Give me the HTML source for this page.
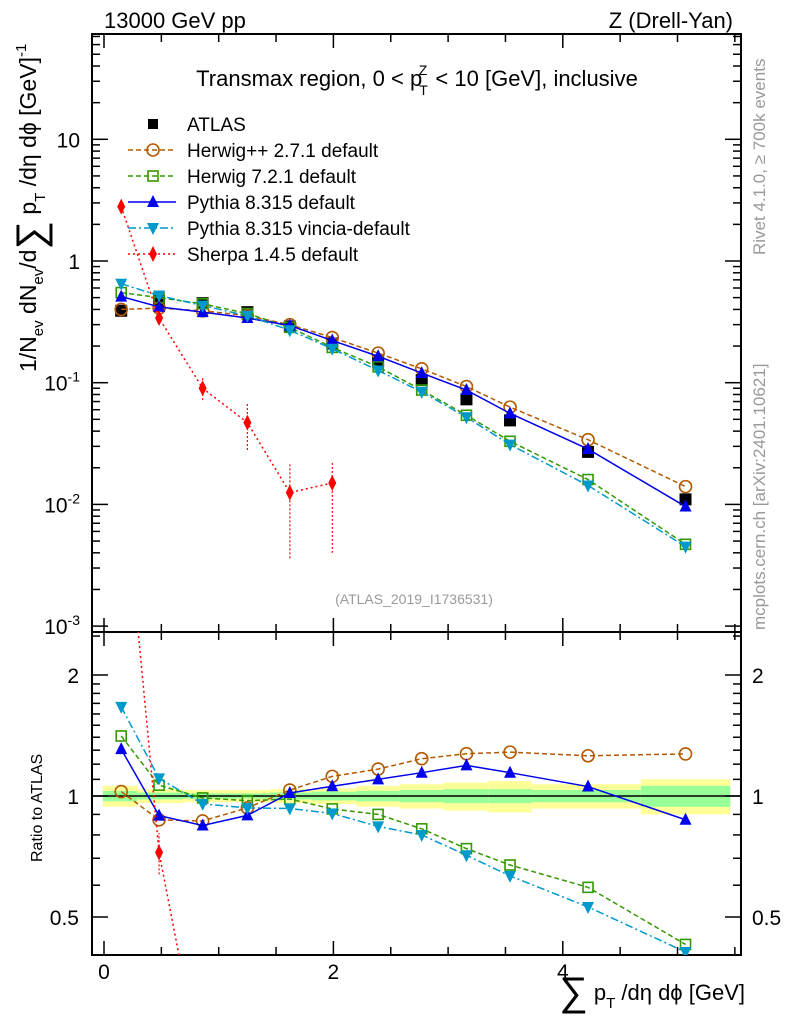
<!DOCTYPE html>
<html><head><meta charset="utf-8"><style>
body{margin:0;background:#fff;overflow:hidden;}
svg{display:block;font-family:"Liberation Sans",sans-serif;}
</style></head><body>
<svg id="c" width="786" height="1024" xmlns="http://www.w3.org/2000/svg">
<g id="bands"></g>
<g id="grid"></g>
<g id="series"></g>
<text x="104" y="28" font-size="22">13000 GeV pp</text>
<text x="733" y="28" font-size="22" text-anchor="end">Z (Drell-Yan)</text>
<text x="417" y="86" font-size="22" text-anchor="middle">Transmax region, 0 &lt; p<tspan font-size="14" dy="9" dx="-3">T</tspan><tspan font-size="14" dy="-20" dx="-9">Z</tspan><tspan dy="11" dx="2"> &lt; 10 [GeV], inclusive</tspan></text>
<text x="414" y="604" font-size="14" fill="#999" text-anchor="middle">(ATLAS_2019_I1736531)</text>
<text transform="translate(765,255) rotate(-90)" font-size="17" fill="#999">Rivet 4.1.0, ≥ 700k events</text>
<text transform="translate(765,630) rotate(-90)" font-size="17" fill="#999">mcplots.cern.ch [arXiv:2401.10621]</text>
<text transform="translate(36,372) rotate(-90)" font-size="23">1/N<tspan font-size="15" dy="7">ev</tspan><tspan dy="-7"> dN</tspan><tspan font-size="15" dy="7">ev</tspan><tspan dy="-7">/d</tspan><tspan font-size="40" dy="8">∑</tspan><tspan dy="-8"> p</tspan><tspan font-size="15" dy="9">T</tspan><tspan dy="-9"> /dη dϕ  [GeV]</tspan><tspan font-size="15" dy="-10">-1</tspan></text>
<text transform="translate(42,862) rotate(-90)" font-size="16">Ratio to ATLAS</text>
<text x="745" y="1000" font-size="22" text-anchor="end"><tspan font-size="40" dy="5">∑</tspan><tspan dy="-5"> p</tspan><tspan font-size="15" dy="8">T</tspan><tspan dy="-8"> /dη dϕ [GeV]</tspan></text>
<g id="legend"></g>
</svg>
<script>
const xs=[0.15,0.48,0.86,1.25,1.62,1.99,2.39,2.77,3.16,3.54,4.22,5.07];
const atlas=[0.39,0.47,0.45,0.38,0.29,0.21,0.15,0.105,0.073,0.049,0.027,0.011];
const herwigpp=[0.40,0.41,0.39,0.355,0.30,0.235,0.175,0.13,0.093,0.063,0.034,0.014];
const herwig7=[0.55,0.50,0.445,0.37,0.285,0.195,0.135,0.087,0.054,0.033,0.016,0.0047];
const pythia=[0.51,0.42,0.38,0.34,0.295,0.222,0.165,0.12,0.087,0.056,0.0285,0.0096];
const vincia=[0.65,0.52,0.43,0.355,0.27,0.19,0.126,0.084,0.052,0.031,0.0143,0.0045];
const sherpaX=[0.15,0.48,0.86,1.25,1.62,1.99];
const sherpa=[2.8,0.34,0.09,0.047,0.0125,0.015];
const sherpaLo=[2.8,0.30,0.072,0.028,0.0036,0.004];
const sherpaHi=[2.8,0.38,0.11,0.068,0.022,0.022];
const binEdges=[-0.01,0.29,0.68,1.05,1.44,1.81,2.2,2.58,2.96,3.35,3.73,4.68,5.46];
const totErr=[0.06,0.04,0.035,0.035,0.04,0.045,0.06,0.07,0.08,0.09,0.07,0.10];
const statErr=[0.03,0.02,0.015,0.015,0.02,0.025,0.03,0.035,0.04,0.04,0.035,0.06];
const xTicks=[0,2,4];
const yTicksMain=[10,1,0.1,0.01,0.001];
const yTickLabelsMain=["10","1","10^-1","10^-2","10^-3"];
const rTicks=[2,1,0.5];

const L=92,R=741,T=34,MB=632,RB=955;
const X=v=>104+v*114.7;
const Y=v=>261-121.7*Math.log10(v);
const YR=v=>796-121*Math.log2(v);
const NS="http://www.w3.org/2000/svg";
function mk(tag,at,parent){const e=document.createElementNS(NS,tag);for(const k in at)e.setAttribute(k,at[k]);parent.appendChild(e);return e;}
const bands=document.getElementById('bands'),grid=document.getElementById('grid'),ser=document.getElementById('series'),leg=document.getElementById('legend');

for(let i=0;i<xs.length;i++){
 const x0=X(binEdges[i]),x1=X(binEdges[i+1]);
 const y=mk('rect',{x:x0,y:YR(1+totErr[i]),width:x1-x0,height:YR(1-totErr[i])-YR(1+totErr[i]),fill:'#ffff99'},bands);
 
 
 const g=mk('rect',{x:x0,y:YR(1+statErr[i]),width:x1-x0,height:YR(1-statErr[i])-YR(1+statErr[i]),fill:'#99ff99'},bands);
 
 
}
mk('rect',{x:L,y:T,width:R-L,height:MB-T,fill:'none',stroke:'#000','stroke-width':2},grid);
mk('rect',{x:L,y:MB,width:R-L,height:RB-MB,fill:'none',stroke:'#000','stroke-width':2},grid);
mk('line',{x1:L,x2:R,y1:YR(1),y2:YR(1),stroke:'#000','stroke-width':1.5},grid);
for(let v=0;v<=5.5;v+=0.5){const x=X(v);const maj=Math.abs(v%2)<1e-6;const len=maj?14:8;
 for(const [y0,d] of [[MB,1],[RB,-1],[T,1],[MB,-1]]) mk('line',{x1:x,x2:x,y1:y0,y2:y0+d*len,stroke:'#000','stroke-width':1.5},grid);}
xTicks.forEach(v=>{const t=mk('text',{x:X(v),y:979,'font-size':21,'text-anchor':'middle'},grid);t.textContent=v;
 
 });
for(let e=-3;e<=1;e++){for(let m=1;m<=9;m++){const v=m*Math.pow(10,e);const y=Y(v);if(y<T||y>MB)continue;const len=m==1?16:8;
 mk('line',{x1:L,x2:L+len,y1:y,y2:y,stroke:'#000','stroke-width':1.5},grid);mk('line',{x1:R,x2:R-len,y1:y,y2:y,stroke:'#000','stroke-width':1.5},grid);}}
yTicksMain.forEach((v,i)=>{const t=mk('text',{x:80,y:Y(v)+8,'font-size':21,'text-anchor':'end'},grid);const lab=yTickLabelsMain[i];
 if(lab.includes('^')){const p=lab.split('^');t.textContent=p[0];const s=mk('tspan',{'font-size':14,dy:-9},t);s.textContent=p[1];}else t.textContent=lab;
 
 });
[0.4,0.5,0.6,0.7,0.8,0.9,1,1.1,1.2,1.3,1.4,1.5,1.6,1.7,1.8,1.9,2,2.5].forEach(v=>{const y=YR(v);if(y<MB||y>RB)return;const len=(v==0.5||v==1||v==2)?16:8;
 mk('line',{x1:L,x2:L+len,y1:y,y2:y,stroke:'#000','stroke-width':1.5},grid);mk('line',{x1:R,x2:R-len,y1:y,y2:y,stroke:'#000','stroke-width':1.5},grid);});
rTicks.forEach(v=>{for(const [x,a] of [[79,'end'],[752,'start']]){const t=mk('text',{x:x,y:YR(v)+8,'font-size':21,'text-anchor':a},grid);t.textContent=v;
 
 }});

const defs=mk('defs',{},ser);
const c1=mk('clipPath',{id:'cm'},defs);mk('rect',{x:L,y:T,width:R-L,height:MB-T},c1);
const c2=mk('clipPath',{id:'cr'},defs);mk('rect',{x:L,y:MB,width:R-L,height:RB-MB},c2);

function marker(g,type,x,y,col,s){
 if(type=='sq') return mk('rect',{x:x-s,y:y-s,width:2*s,height:2*s,fill:col},g);
 if(type=='osq') return mk('rect',{x:x-s+1,y:y-s+1,width:2*s-2,height:2*s-2,fill:'none',stroke:col,'stroke-width':1.6},g);
 if(type=='oc') return mk('circle',{cx:x,cy:y,r:s,fill:'none',stroke:col,'stroke-width':1.6},g);
 if(type=='tu') return mk('polygon',{points:`${x},${y-s-1} ${x-s},${y+s-1} ${x+s},${y+s-1}`,fill:col},g);
 if(type=='td') return mk('polygon',{points:`${x},${y+s+1} ${x-s},${y-s+1} ${x+s},${y-s+1}`,fill:col},g);
 if(type=='di') return mk('polygon',{points:`${x},${y-s-2} ${x-s+2},${y} ${x},${y+s+2} ${x+s-2},${y}`,fill:col},g);
}
const defsS=[
 {name:'herwigpp',lab:'Herwig++ 2.7.1 default',d:herwigpp,col:'#b35900',dash:'5,3',m:'oc'},
 {name:'herwig7',lab:'Herwig 7.2.1 default',d:herwig7,col:'#339900',dash:'5,3',m:'osq'},
 {name:'pythia',lab:'Pythia 8.315 default',d:pythia,col:'#0000ee',dash:'',m:'tu'},
 {name:'vincia',lab:'Pythia 8.315 vincia-default',d:vincia,col:'#0099cc',dash:'8,3,2,3',m:'td'},
];
const ga=mk('g',{'clip-path':'url(#cm)'},ser);


atlas.forEach((v,i)=>{const p=marker(ga,'sq',X(xs[i]),Y(v),'#000',6);
 
 });
defsS.forEach(s=>{
 const g=mk('g',{'clip-path':'url(#cm)'},ser);
 
 
 mk('polyline',{points:s.d.map((v,i)=>X(xs[i])+','+Y(v)).join(' '),fill:'none',stroke:s.col,'stroke-width':1.5,'stroke-dasharray':s.dash},g);
 s.d.forEach((v,i)=>{const p=marker(g,s.m,X(xs[i]),Y(v),s.col,6);
  
  });
 const gr=mk('g',{'clip-path':'url(#cr)'},ser);
 
 
 mk('polyline',{points:s.d.map((v,i)=>X(xs[i])+','+YR(v/atlas[i])).join(' '),fill:'none',stroke:s.col,'stroke-width':1.5,'stroke-dasharray':s.dash},gr);
 s.d.forEach((v,i)=>{const p=marker(gr,s.m,X(xs[i]),YR(v/atlas[i]),s.col,6);
  
  });
});
const gs=mk('g',{'clip-path':'url(#cm)'},ser);


mk('polyline',{points:sherpa.map((v,i)=>X(sherpaX[i])+','+Y(v)).join(' '),fill:'none',stroke:'#ff0000','stroke-width':1.5,'stroke-dasharray':'2,3'},gs);
sherpa.forEach((v,i)=>{const x=X(sherpaX[i]);
 mk('line',{x1:x,x2:x,y1:Y(sherpaLo[i]),y2:Y(sherpaHi[i]),stroke:'#ff0000','stroke-width':1.2,'stroke-dasharray':'2,2'},gs);
 const p=marker(gs,'di',x,Y(v),'#ff0000',6);
 
 });
const gsr=mk('g',{'clip-path':'url(#cr)'},ser);


mk('polyline',{points:sherpa.map((v,i)=>X(sherpaX[i])+','+YR(v/atlas[i])).join(' '),fill:'none',stroke:'#ff0000','stroke-width':1.5,'stroke-dasharray':'2,3'},gsr);
sherpa.forEach((v,i)=>{const x=X(sherpaX[i]);
 mk('line',{x1:x,x2:x,y1:YR(sherpaLo[i]/atlas[i]),y2:YR(sherpaHi[i]/atlas[i]),stroke:'#ff0000','stroke-width':1.2,'stroke-dasharray':'2,2'},gsr);
 const p=marker(gsr,'di',x,YR(v/atlas[i]),'#ff0000',6);
 
 });

const legItems=[{lab:'ATLAS',col:'#000',m:'sq',dash:null}].concat(defsS).concat([{lab:'Sherpa 1.4.5 default',col:'#ff0000',m:'di',dash:'2,3'}]);
legItems.forEach((s,i)=>{const y=124+i*26;
 const g=mk('g',{},leg);
 
 
 if(s.dash!==null) mk('line',{x1:128,x2:176,y1:y,y2:y,stroke:s.col,'stroke-width':1.5,'stroke-dasharray':s.dash},g);
 marker(g,s.m,153,y,s.col,s.m=='sq'?5:6);
 const t=mk('text',{x:187,y:y+7,'font-size':19},g);t.textContent=s.lab;});
</script>
</body></html>
